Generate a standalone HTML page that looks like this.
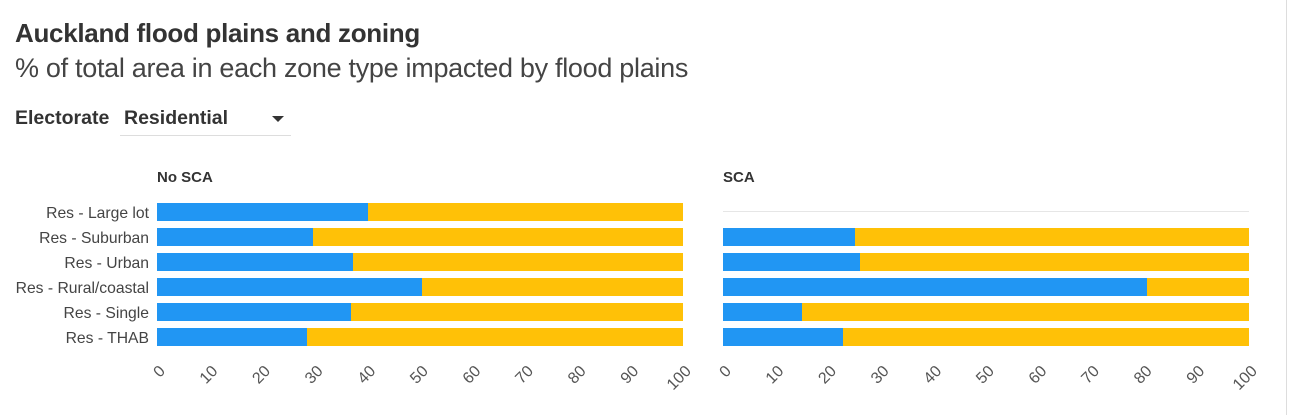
<!DOCTYPE html><html><head><style>
body{margin:0;width:1290px;height:415px;background:#fff;font-family:"Liberation Sans",sans-serif;color:#333;position:relative;overflow:hidden}
.a{position:absolute;white-space:nowrap}
</style></head><body>
<div class="a" style="left:15px;top:18px;font-size:26px;font-weight:bold;color:#333;letter-spacing:-0.3px">Auckland flood plains and zoning</div>
<div class="a" style="left:15px;top:53px;font-size:27px;color:#444;letter-spacing:-0.3px">% of total area in each zone type impacted by flood plains</div>
<div class="a" style="left:15px;top:107px;font-size:19.5px;font-weight:bold;color:#333">Electorate</div>
<div class="a" style="left:124px;top:107px;font-size:19.5px;font-weight:bold;color:#333">Residential</div>
<div class="a" style="left:120px;top:135px;width:171px;height:1px;background:#ddd"></div>
<div class="a" style="left:272px;top:116px;width:0;height:0;border-left:6px solid transparent;border-right:6px solid transparent;border-top:6px solid #333"></div>
<div class="a" style="left:1286px;top:0;width:1px;height:415px;background:#ddd"></div>
<svg class="a" style="left:0;top:0" width="1290" height="415" font-family="Liberation Sans, sans-serif">
<text x="157" y="182" font-size="15" font-weight="bold" fill="#333">No SCA</text>
<text x="723" y="182" font-size="15" font-weight="bold" fill="#333">SCA</text>
<g font-size="15.7" fill="#444" text-anchor="end">
<text x="149" y="218">Res - Large lot</text>
<text x="149" y="243">Res - Suburban</text>
<text x="149" y="268">Res - Urban</text>
<text x="149" y="293">Res - Rural/coastal</text>
<text x="149" y="318">Res - Single</text>
<text x="149" y="343">Res - THAB</text>
</g>
<g>
<rect x="157" y="203" width="526" height="18" fill="#FFC107"/><rect x="157" y="203" width="211" height="18" fill="#2196F3"/>
<rect x="157" y="228" width="526" height="18" fill="#FFC107"/><rect x="157" y="228" width="156" height="18" fill="#2196F3"/>
<rect x="157" y="253" width="526" height="18" fill="#FFC107"/><rect x="157" y="253" width="196" height="18" fill="#2196F3"/>
<rect x="157" y="278" width="526" height="18" fill="#FFC107"/><rect x="157" y="278" width="265" height="18" fill="#2196F3"/>
<rect x="157" y="303" width="526" height="18" fill="#FFC107"/><rect x="157" y="303" width="194" height="18" fill="#2196F3"/>
<rect x="157" y="328" width="526" height="18" fill="#FFC107"/><rect x="157" y="328" width="150" height="18" fill="#2196F3"/>
<rect x="723" y="211" width="526" height="1" fill="#e6e6e6"/>
<rect x="723" y="228" width="526" height="18" fill="#FFC107"/><rect x="723" y="228" width="132" height="18" fill="#2196F3"/>
<rect x="723" y="253" width="526" height="18" fill="#FFC107"/><rect x="723" y="253" width="137" height="18" fill="#2196F3"/>
<rect x="723" y="278" width="526" height="18" fill="#FFC107"/><rect x="723" y="278" width="424" height="18" fill="#2196F3"/>
<rect x="723" y="303" width="526" height="18" fill="#FFC107"/><rect x="723" y="303" width="79" height="18" fill="#2196F3"/>
<rect x="723" y="328" width="526" height="18" fill="#FFC107"/><rect x="723" y="328" width="120" height="18" fill="#2196F3"/>
</g>
<g font-size="16" fill="#555" text-anchor="end">
<text transform="translate(166,372) rotate(-45)">0</text>
<text transform="translate(218.6,372) rotate(-45)">10</text>
<text transform="translate(271.2,372) rotate(-45)">20</text>
<text transform="translate(323.8,372) rotate(-45)">30</text>
<text transform="translate(376.4,372) rotate(-45)">40</text>
<text transform="translate(429,372) rotate(-45)">50</text>
<text transform="translate(481.6,372) rotate(-45)">60</text>
<text transform="translate(534.2,372) rotate(-45)">70</text>
<text transform="translate(586.8,372) rotate(-45)">80</text>
<text transform="translate(639.4,372) rotate(-45)">90</text>
<text transform="translate(692,372) rotate(-45)">100</text>
<text transform="translate(732,372) rotate(-45)">0</text>
<text transform="translate(784.6,372) rotate(-45)">10</text>
<text transform="translate(837.2,372) rotate(-45)">20</text>
<text transform="translate(889.8,372) rotate(-45)">30</text>
<text transform="translate(942.4,372) rotate(-45)">40</text>
<text transform="translate(995,372) rotate(-45)">50</text>
<text transform="translate(1047.6,372) rotate(-45)">60</text>
<text transform="translate(1100.2,372) rotate(-45)">70</text>
<text transform="translate(1152.8,372) rotate(-45)">80</text>
<text transform="translate(1205.4,372) rotate(-45)">90</text>
<text transform="translate(1258,372) rotate(-45)">100</text>
</g>
</svg>
</body></html>
